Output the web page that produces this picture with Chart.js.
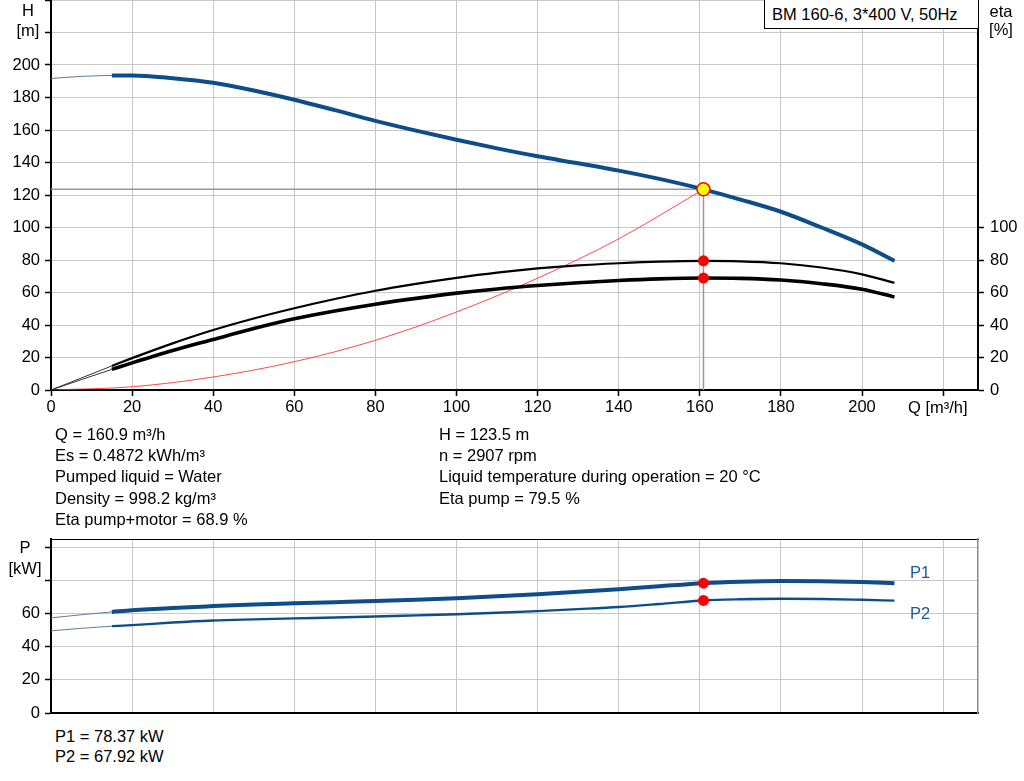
<!DOCTYPE html>
<html>
<head>
<meta charset="utf-8">
<script src="https://cdn.jsdelivr.net/npm/chart.js@4.4.0/dist/chart.umd.min.js"></script>
<style>
  html, body { margin: 0; padding: 0; background: #fff; }
  body { width: 1024px; height: 781px; position: relative; overflow: hidden;
         font-family: "Liberation Sans", Arial, sans-serif; font-size: 16.5px; color: #000; }
  canvas { position: absolute; left: 0; }
  #headChart { top: 0; }
  #powerChart { top: 530px; }
  .lbl { position: absolute; white-space: nowrap; line-height: 20px; }
  .ctr { text-align: center; }
  .blue { color: #1b5a98; }
  #title { position: absolute; left: 764px; top: -1px; width: 206px; height: 28px; line-height: 28px;
           padding-left: 7px; border: 1px solid #000; background: #fff; white-space: nowrap; }
</style>
</head>
<body>
<canvas id="headChart" width="1024" height="425"></canvas>
<canvas id="powerChart" width="1024" height="195"></canvas>

<div id="title">BM 160-6, 3*400 V, 50Hz</div>
<div class="lbl ctr" style="left:0;top:0;width:56px">H</div>
<div class="lbl ctr" style="left:0;top:20px;width:56px">[m]</div>
<div class="lbl ctr" style="left:978px;top:1px;width:46px">eta</div>
<div class="lbl ctr" style="left:978px;top:19px;width:46px">[%]</div>
<div class="lbl" style="left:908px;top:397px">Q [m³/h]</div>

<div class="lbl" style="left:55px;top:424px">Q = 160.9 m³/h</div>
<div class="lbl" style="left:55px;top:445px">Es = 0.4872 kWh/m³</div>
<div class="lbl" style="left:55px;top:466px">Pumped liquid = Water</div>
<div class="lbl" style="left:55px;top:488px">Density = 998.2 kg/m³</div>
<div class="lbl" style="left:55px;top:509px">Eta pump+motor = 68.9 %</div>
<div class="lbl" style="left:439px;top:424px">H = 123.5 m</div>
<div class="lbl" style="left:439px;top:445px">n = 2907 rpm</div>
<div class="lbl" style="left:439px;top:466px">Liquid temperature during operation = 20 °C</div>
<div class="lbl" style="left:439px;top:488px">Eta pump = 79.5 %</div>

<div class="lbl ctr" style="left:0;top:537px;width:50px">P</div>
<div class="lbl ctr" style="left:0;top:558px;width:50px">[kW]</div>
<div class="lbl blue" style="left:910px;top:562px">P1</div>
<div class="lbl blue" style="left:910px;top:603px">P2</div>
<div class="lbl" style="left:55px;top:726px">P1 = 78.37 kW</div>
<div class="lbl" style="left:55px;top:746px">P2 = 67.92 kW</div>

<script>
// flow points of the published curve (m³/h)
const flowQ = [15, 20, 30, 40, 50, 60, 70, 80, 90, 100, 110, 120, 130, 140, 150, 160.9, 170, 180, 190, 200, 208];
const headH = [193.6, 193.6, 191.9, 189.1, 184.3, 178.6, 172.2, 165.6, 159.6, 154.0, 148.7, 143.8, 139.5, 135.0, 129.9, 123.5, 117.2, 109.7, 100.0, 89.6, 79.4];
const etaPump = [14.8, 19.6, 28.7, 36.9, 44.0, 50.3, 56.0, 61.1, 65.3, 69.0, 72.2, 74.8, 76.7, 78.0, 79.0, 79.5, 79.2, 78.0, 75.4, 71.2, 66.0];
const etaTotal = [12.7, 16.7, 24.3, 31.1, 37.8, 43.8, 48.6, 52.8, 56.4, 59.6, 62.2, 64.3, 66.0, 67.4, 68.4, 68.9, 68.7, 67.7, 65.4, 62.0, 57.2];
const powerP1 = [61.0, 62.0, 63.4, 64.5, 65.5, 66.2, 66.9, 67.6, 68.4, 69.3, 70.4, 71.7, 73.1, 74.7, 76.5, 78.37, 79.2, 79.6, 79.5, 79.0, 78.3];
const powerP2 = [52.4, 53.0, 54.6, 55.8, 56.5, 57.1, 57.6, 58.2, 58.9, 59.6, 60.5, 61.5, 62.7, 64.0, 65.8, 67.92, 68.6, 68.9, 68.8, 68.3, 67.8];

// thin extrapolation below the minimum flow
const lowQ = [0, 7.5, 15];
const lowH = [191.7, 193.0, 193.6];
const lowEtaPump = [0, 7.4, 14.8];
const lowEtaTotal = [0, 6.4, 12.7];
const lowP1 = [57.4, 59.3, 61.0];
const lowP2 = [49.6, 51.1, 52.4];

// system curve through the duty point
const sysQ = [0, 20, 40, 60, 80, 100, 120, 140, 160.9];
const sysH = [0, 2.0, 8.0, 17.4, 30.6, 48.0, 68.8, 93.0, 123.5];

// duty point
const dutyQ = 160.9, dutyH = 123.5, dutyEtaPump = 79.5, dutyEtaTotal = 68.9, dutyP1 = 78.37, dutyP2 = 67.92;

const qTicksMax = 228.6;
const hMax = 240, pMax = 105;

const blue = '#0d4d8a';
const gridColor = '#c8c8c8';

Chart.defaults.font.family = '"Liberation Sans", Arial, sans-serif';
Chart.defaults.font.size = 16.5;
Chart.defaults.color = '#000';

const pts = (xs, ys) => xs.map((x, i) => ({ x: x, y: ys[i] }));

const fixWidth = w => s => { s.width = w; s.paddingTop = 0; s.paddingBottom = 0; };
const fixHeight = h => s => { s.height = h; s.paddingLeft = 0; s.paddingRight = 0; };

function curve(data, color, width, axis) {
    return { data: data, borderColor: color, borderWidth: width, pointRadius: 0,
             cubicInterpolationMode: 'monotone', yAxisID: axis, fill: false };
}
function dot(x, y, axis, fillCol, r) {
    return { data: [{ x: x, y: y }], showLine: false, yAxisID: axis, pointRadius: r,
             pointBackgroundColor: fillCol, pointBorderColor: '#ff0000', pointBorderWidth: fillCol === '#ff0000' ? 0 : 1.5 };
}

const qAxis = (labels, height) => ({
    type: 'linear', min: 0, max: qTicksMax, afterFit: fixHeight(height),
    ticks: { stepSize: 20, includeBounds: false, display: labels, padding: 2, maxRotation: 0,
             callback: v => v <= 200 ? v : '' },
    grid: { color: gridColor, lineWidth: 1, drawTicks: labels, tickLength: 6, tickColor: '#000', tickWidth: 1.5 },
    border: { color: '#000', width: 2 }
});

// --- Head / efficiency chart ---
new Chart(document.getElementById('headChart'), {
    type: 'line',
    data: {
        datasets: [
            dot(dutyQ, dutyH, 'y', '#ffff00', 6.5),
            dot(dutyQ, dutyEtaPump, 'y2', '#ff0000', 5.5),
            dot(dutyQ, dutyEtaTotal, 'y2', '#ff0000', 5.5),
            curve(pts(flowQ, headH), blue, 4, 'y'),
            curve(pts(flowQ, etaPump), '#000', 2.2, 'y2'),
            curve(pts(flowQ, etaTotal), '#000', 3.6, 'y2'),
            curve(pts(lowQ, lowH), '#5a7da3', 1, 'y'),
            curve(pts(lowQ, lowEtaPump), '#333', 1, 'y2'),
            curve(pts(lowQ, lowEtaTotal), '#333', 1, 'y2'),
            curve(pts(sysQ, sysH), 'rgba(255,40,40,0.85)', 1, 'y'),
            { data: [{ x: 0, y: dutyH }, { x: dutyQ, y: dutyH }, { x: dutyQ, y: 0 }],
              borderColor: '#9a9a9a', borderWidth: 1.5, pointRadius: 0, tension: 0, yAxisID: 'y' }
        ]
    },
    options: {
        responsive: false, animation: false,
        layout: { padding: 0, autoPadding: false },
        plugins: { legend: { display: false }, tooltip: { enabled: false } },
        scales: {
            x: qAxis(true, 35),
            y: {
                type: 'linear', position: 'left', min: 0, max: hMax, afterFit: fixWidth(51),
                ticks: { stepSize: 20, padding: 5, callback: v => v <= 200 ? v : '' },
                grid: { color: gridColor, lineWidth: 1, tickLength: 6, tickColor: '#000', tickWidth: 1.5 },
                border: { color: '#000', width: 2 }
            },
            y2: {
                type: 'linear', position: 'right', min: 0, max: hMax, afterFit: fixWidth(46),
                ticks: { stepSize: 20, padding: 6, callback: v => v <= 100 ? v : '' },
                grid: { drawOnChartArea: false, tickLength: 6, tickWidth: 1.5,
                        tickColor: c => (c.tick && c.tick.value <= 100) ? '#000' : 'rgba(0,0,0,0)' },
                border: { color: '#000', width: 2 }
            }
        }
    }
});

// --- Power chart ---
new Chart(document.getElementById('powerChart'), {
    type: 'line',
    data: {
        datasets: [
            dot(dutyQ, dutyP1, 'y', '#ff0000', 5.5),
            dot(dutyQ, dutyP2, 'y', '#ff0000', 5.5),
            curve(pts(flowQ, powerP1), blue, 4, 'y'),
            curve(pts(flowQ, powerP2), blue, 2.4, 'y'),
            curve(pts(lowQ, lowP1), '#5a7da3', 1, 'y'),
            curve(pts(lowQ, lowP2), '#5a7da3', 1, 'y')
        ]
    },
    options: {
        responsive: false, animation: false,
        layout: { padding: 0, autoPadding: false },
        plugins: { legend: { display: false }, tooltip: { enabled: false } },
        scales: {
            x: qAxis(false, 12),
            xt: {
                type: 'linear', position: 'top', afterFit: fixHeight(9),
                ticks: { display: false },
                grid: { drawOnChartArea: false, drawTicks: false },
                border: { color: '#000', width: 1 }
            },
            y: {
                type: 'linear', position: 'left', min: 0, max: pMax, afterFit: fixWidth(51),
                ticks: { stepSize: 20, includeBounds: false, padding: 5, callback: v => v <= 60 ? v : '' },
                grid: { color: gridColor, lineWidth: 1, tickLength: 6, tickColor: '#000', tickWidth: 1.5 },
                border: { color: '#000', width: 2 }
            },
            yr: {
                type: 'linear', position: 'right', afterFit: fixWidth(46),
                ticks: { display: false },
                grid: { drawOnChartArea: false, drawTicks: false },
                border: { color: '#8a8a8a', width: 1.5 }
            }
        }
    }
});
</script>
</body>
</html>
